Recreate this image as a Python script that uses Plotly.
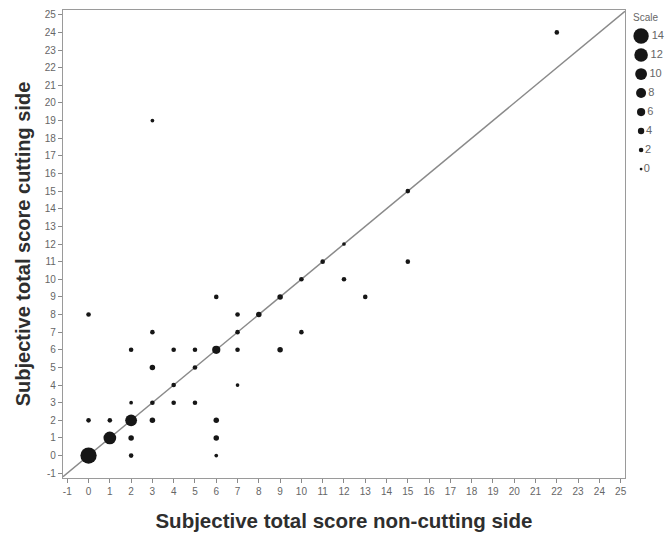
import plotly.graph_objects as go

# Data: (non-cutting score, cutting score, count)
x_vals = [0, 1, 2, 2, 2, 0, 1, 0, 2, 2, 3, 3, 3, 3, 3, 4, 4, 4, 5, 5, 5,
          6, 6, 6, 6, 6, 7, 7, 7, 7, 8, 9, 9, 10, 10, 11, 12, 12, 13, 15, 15, 22]
y_vals = [0, 1, 2, 1, 0, 2, 2, 8, 6, 3, 7, 5, 3, 2, 19, 6, 4, 3, 6, 5, 3,
          9, 6, 2, 1, 0, 8, 7, 6, 4, 8, 9, 6, 10, 7, 11, 12, 10, 9, 15, 11, 24]
counts = [15, 11, 10, 3, 2, 2, 2, 2, 2, 1, 2, 3, 2, 3, 1, 2, 2, 2, 2, 2, 2,
          2, 6, 3, 3, 1, 2, 2, 2, 1, 3, 3, 3, 2, 2, 2, 1, 2, 2, 2, 2, 2]

scale_values = [14, 12, 10, 8, 6, 4, 2, 0]
tick_values = list(range(-1, 26))

x_title = "Subjective total score non-cutting side"
y_title = "Subjective total score cutting side"


def diam(n):
    return 2.8 + 0.9 * n


MARK = "#161616"
GREY = "#666666"

fig = go.Figure()

# identity line
fig.add_trace(go.Scatter(x=[-1.2, 25.2], y=[-1.2, 25.2], mode="lines",
                         line=dict(color="#8a8a8a", width=1.5),
                         hoverinfo="skip", showlegend=False))

fig.add_trace(go.Scatter(x=x_vals, y=y_vals, mode="markers",
                         marker=dict(size=[diam(c) for c in counts], color=MARK,
                                     opacity=1, line=dict(width=0)),
                         showlegend=False))

# manual size legend on a secondary axis pair
fig.add_trace(go.Scatter(x=[15] * len(scale_values),
                         y=list(range(len(scale_values))),
                         mode="markers+text",
                         text=[str(v) for v in scale_values],
                         textposition="middle right",
                         textfont=dict(size=11, color=GREY,
                                       family="Liberation Sans, Arial"),
                         marker=dict(size=[diam(v) for v in scale_values],
                                     color=MARK, opacity=1, line=dict(width=0)),
                         xaxis="x2", yaxis="y2", showlegend=False,
                         cliponaxis=False))

axis_common = dict(
    showline=True, linecolor="#9a9a9a", linewidth=1.2, mirror=True,
    ticks="outside", ticklen=4, tickcolor="#8a8a8a", tickwidth=1,
    showgrid=False, zeroline=False,
    tickmode="array", tickvals=tick_values,
    ticktext=[str(v) for v in tick_values],
    tickfont=dict(size=10, color=GREY, family="Liberation Sans, Arial"),
)

fig.update_layout(
    width=669, height=537,
    margin=dict(l=63, r=5, t=10, b=59, autoexpand=False),
    paper_bgcolor="white", plot_bgcolor="white",
    xaxis=dict(domain=[0, 0.935], range=[-1.2, 25.2],
               title=dict(text=f"<b>{x_title}</b>", standoff=17,
                          font=dict(size=20.5, color="#2e2e2e",
                                    family="Liberation Sans, Arial")),
               **axis_common),
    yaxis=dict(range=[-1.27, 25.27],
               title=dict(text=f"<b>{y_title}</b>", standoff=8,
                          font=dict(size=20, color="#2e2e2e",
                                    family="Liberation Sans, Arial")),
               **axis_common),
    xaxis2=dict(domain=[0.937, 1], range=[0, 38], visible=False, fixedrange=True),
    yaxis2=dict(domain=[0, 1], range=[23.26, -1.37], visible=False,
                anchor="x2", fixedrange=True),
    annotations=[dict(x=5, y=-1, xref="x2", yref="y2", text="Scale",
                      showarrow=False, xanchor="left",
                      font=dict(size=10, color=GREY,
                                family="Liberation Sans, Arial"))],
)

fig.write_html("out.html")
